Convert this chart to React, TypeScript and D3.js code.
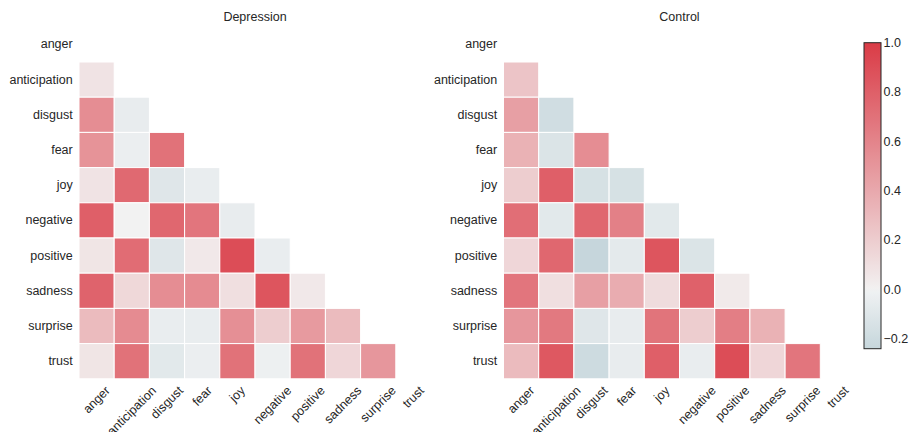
import React from "react";
import * as d3 from "d3";

const emotions = ["anger", "anticipation", "disgust", "fear", "joy", "negative", "positive", "sadness", "surprise", "trust"];
const titles = ["Depression", "Control"];

// lower-triangle correlations: row i has values for columns 0..i-1
const depressionRows: number[][] = [
  [],
  [0.08],
  [0.55, -0.05],
  [0.52, -0.03, 0.7],
  [0.08, 0.75, -0.1, -0.04],
  [0.8, 0.0, 0.76, 0.68, -0.05],
  [0.07, 0.73, -0.1, 0.05, 0.9, -0.04],
  [0.78, 0.14, 0.55, 0.56, 0.1, 0.86, 0.05],
  [0.3, 0.56, -0.04, -0.04, 0.54, 0.2, 0.48, 0.3],
  [0.07, 0.7, -0.08, -0.03, 0.7, -0.02, 0.7, 0.15, 0.5],
];
const controlRows: number[][] = [
  [],
  [0.25],
  [0.45, -0.18],
  [0.35, -0.12, 0.55],
  [0.2, 0.8, -0.15, -0.15],
  [0.72, -0.08, 0.76, 0.62, -0.08],
  [0.15, 0.76, -0.24, -0.07, 0.86, -0.12],
  [0.68, 0.1, 0.45, 0.38, 0.12, 0.79, 0.04],
  [0.5, 0.66, -0.1, -0.05, 0.69, 0.2, 0.63, 0.35],
  [0.3, 0.84, -0.2, -0.05, 0.8, -0.04, 0.9, 0.15, 0.68],
];
const cbarTicks = [-0.2, 0.0, 0.2, 0.4, 0.6, 0.8, 1.0];
const vmin = -0.238;
const vmax = 1.0;

// ---- HUSL (HSLuv) conversion to reproduce seaborn diverging_palette(220, 10)
const M = [
  [3.240969941904521, -1.537383177570093, -0.498610760293],
  [-0.96924363628087, 1.87596750150772, 0.041555057407175],
  [0.055630079696993, -0.20397695888897, 1.056971514242878],
];
const refU = 0.19783000664283, refV = 0.46831999493879;
const kappa = 903.2962962, epsilon = 0.0088564516;
function getBounds(L: number) {
  const sub1 = Math.pow(L + 16, 3) / 1560896;
  const sub2 = sub1 > epsilon ? sub1 : L / kappa;
  const res: [number, number][] = [];
  for (let c = 0; c < 3; c++) {
    const [m1, m2, m3] = M[c];
    for (let t = 0; t < 2; t++) {
      const top1 = (284517 * m1 - 94839 * m3) * sub2;
      const top2 = (838422 * m3 + 769860 * m2 + 731718 * m1) * L * sub2 - 769860 * t * L;
      const bottom = (632260 * m3 - 126452 * m2) * sub2 + 126452 * t;
      res.push([top1 / bottom, top2 / bottom]);
    }
  }
  return res;
}
function maxChroma(L: number, H: number) {
  const h = (H / 360) * Math.PI * 2;
  let min = Infinity;
  for (const [s, i] of getBounds(L)) {
    const len = i / (Math.sin(h) - s * Math.cos(h));
    if (len >= 0) min = Math.min(min, len);
  }
  return min;
}
function husl(H: number, S: number, L: number): number[] {
  const C = (maxChroma(L, H) / 100) * S;
  const h = (H / 360) * Math.PI * 2;
  const U = Math.cos(h) * C, V = Math.sin(h) * C;
  const varU = U / (13 * L) + refU;
  const varV = V / (13 * L) + refV;
  const Y = L <= 8 ? L / kappa : Math.pow((L + 16) / 116, 3);
  const X = -(9 * Y * varU) / ((varU - 4) * varV - varU * varV);
  const Z = (9 * Y - 15 * varV * Y - varV * X) / (3 * varV);
  const f = (c: number) => (c <= 0.0031308 ? 12.92 * c : 1.055 * Math.pow(c, 1 / 2.4) - 0.055);
  return M.map((r) => Math.min(1, Math.max(0, f(r[0] * X + r[1] * Y + r[2] * Z))));
}
const negEnd = husl(220, 75, 50);
const negLight = husl(220, 11.25, 95);
const mid = [0.95, 0.95, 0.95];
const posLight = husl(10, 11.25, 95);
const posEnd = husl(10, 75, 50);
const toCss = (c: number[]) => d3.rgb(c[0] * 255, c[1] * 255, c[2] * 255).formatHex();
const cmapScale = d3
  .scaleLinear<string>()
  .domain([0, 127 / 256, 128 / 256, 129 / 256, 1])
  .range([negEnd, negLight, mid, posLight, posEnd].map(toCss))
  .interpolate(d3.interpolateRgb)
  .clamp(true);
const colorOf = (v: number) => cmapScale((v + 1) / 2);

const FONT = "'Liberation Sans', Arial, sans-serif";
const FS = 12.5;
const TXT = "#262626";

let ctx: CanvasRenderingContext2D | null = null;
function textWidth(s: string) {
  if (!ctx) ctx = document.createElement("canvas").getContext("2d");
  if (!ctx) return s.length * 6.5;
  ctx.font = `${FS}px ${FONT}`;
  return ctx.measureText(s).width;
}

const SIZE = 352;
const TOP = 26.8;
const panelsX = [79, 503.5];

function Heatmap({ x0, rows, title }: { x0: number; rows: number[][]; title: string }) {
  const band = d3.scaleBand<string>().domain(emotions).range([0, SIZE]);
  const bw = band.bandwidth();
  const y0Lab = SIZE + 4.7;
  return (
    <g transform={`translate(${x0},${TOP})`}>
      <text x={SIZE / 2} y={21 - TOP} textAnchor="middle" fontSize={FS} fill={TXT} fontFamily={FONT}>
        {title}
      </text>
      {rows.map((row, i) =>
        row.map((v, j) => (
          <rect
            key={`${i}-${j}`}
            x={band(emotions[j])!}
            y={band(emotions[i])!}
            width={bw}
            height={bw}
            fill={colorOf(v)}
            stroke="#ffffff"
            strokeWidth={1}
          />
        ))
      )}
      {emotions.map((e) => (
        <text
          key={"y" + e}
          x={-6.3}
          y={band(e)! + bw / 2}
          textAnchor="end"
          dominantBaseline="central"
          fontSize={FS}
          fill={TXT}
          fontFamily={FONT}
        >
          {e}
        </text>
      ))}
      {emotions.map((e) => {
        const w = textWidth(e);
        const h = FS * 1.15;
        const cx = band(e)! + bw / 2;
        const cy = y0Lab + (w + h) / (2 * Math.SQRT2);
        return (
          <text
            key={"x" + e}
            transform={`translate(${cx},${cy}) rotate(-45)`}
            textAnchor="middle"
            dominantBaseline="central"
            fontSize={FS}
            fill={TXT}
            fontFamily={FONT}
          >
            {e}
          </text>
        );
      })}
    </g>
  );
}

function Colorbar() {
  const x = 864, w = 17, top = 42.7, bottom = 348.7;
  const y = d3.scaleLinear().domain([vmin, vmax]).range([bottom, top]);
  const stops = d3.range(0, 61).map((k) => vmin + ((vmax - vmin) * k) / 60);
  return (
    <g>
      <defs>
        <linearGradient id="cbar" x1="0" y1="1" x2="0" y2="0">
          {stops.map((v, k) => (
            <stop key={k} offset={`${(k / 60) * 100}%`} stopColor={colorOf(v)} />
          ))}
        </linearGradient>
      </defs>
      <rect x={x} y={top} width={w} height={bottom - top} fill="url(#cbar)" stroke={TXT} strokeWidth={1} />
      {cbarTicks.map((t) => (
        <text
          key={t}
          x={x + w + 2.5}
          y={y(t)}
          dominantBaseline="central"
          fontSize={FS}
          fill={TXT}
          fontFamily={FONT}
        >
          {t < 0 ? "\u2212" + Math.abs(t).toFixed(1) : t.toFixed(1)}
        </text>
      ))}
    </g>
  );
}

export default function App() {
  const data = [depressionRows, controlRows];
  return (
    <svg
      width={909}
      height={432}
      style={{ position: "absolute", left: 0, top: 0, background: "#ffffff" }}
    >
      {data.map((rows, k) => (
        <Heatmap key={k} x0={panelsX[k]} rows={rows} title={titles[k]} />
      ))}
      <Colorbar />
    </svg>
  );
}
